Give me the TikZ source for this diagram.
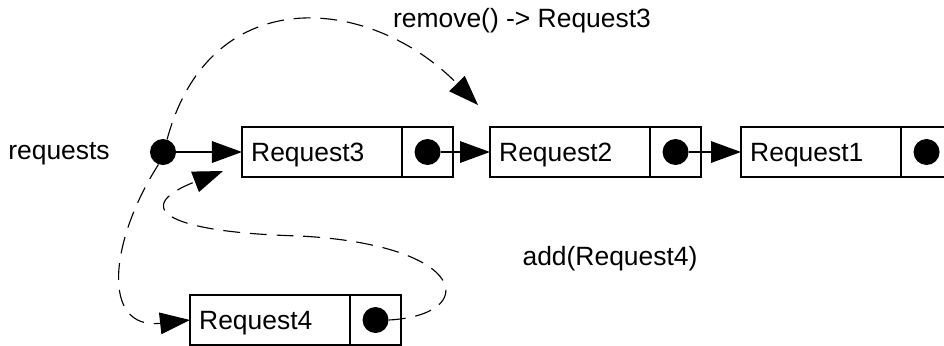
\documentclass[tikz,border=0pt]{standalone}
\usepackage{fontspec}
\setmainfont{Liberation Sans}
\usetikzlibrary{positioning,arrows.meta}

\begin{document}
\begin{tikzpicture}[x=0.025cm, y=-0.025cm,
    font=\fontsize{18.8}{22}\selectfont,
    databox/.style={draw, line width=1.4pt, outer sep=0pt, inner xsep=0.23cm,
        text height=0.5cm, text depth=0.05cm,
        minimum width=4cm, minimum height=1.25cm, text width=3.54cm, align=left, anchor=west},
    ptrbox/.style={draw, line width=1.4pt, outer sep=0pt, inner sep=0pt,
        minimum width=1.275cm, minimum height=1.25cm},
    ptrdot/.style={circle, fill=black, minimum size=0.65cm, inner sep=0pt},
    link/.style={line width=0.8pt, -{Triangle[length=0.75cm, width=0.54cm]}},
    move/.style={link, dash pattern=on 12pt off 7pt}]
                    % 画面の大きさ
                    \useasboundingbox (0,0) rectangle (944,345);
                    % 先頭ポインタ
                    \node[ptrdot] (head) at (163,152) {};
                    \node[anchor=base] (headlabel) at (59,159) {requests};
                    % リストの要素（3, 2, 1）
                    \foreach \n/\x in {3/242,2/490,1/741} {
                        \node[databox] (r\n) at (\x,152) {Request\n};
                        \node[ptrbox, right=0pt of r\n] (p\n) {};
                        \node[ptrdot] (d\n) at (p\n) {};
                    }
                    % 追加する要素
                    \node[databox] (r4) at (190,320) {Request4};
                    \node[ptrbox, right=0pt of r4] (p4) {};
                    \node[ptrdot] (d4) at (p4) {};
                    % リンク
                    \draw[link] (head) -- (r3);
                    \draw[link] (d3) -- (r2);
                    \draw[link] (d2) -- (r1);
                    % remove() の動き
                    \coordinate (rmtip) at (478,105);
                    \draw[move] (head.72) .. controls (210,-20) and (370,-5) .. (rmtip);
                    \node[anchor=base] (rmlabel) at (522,27) {remove() -> Request3};
                    % add() の動き
                    \coordinate (addtip) at (223,171);
                    \draw[move] (head.250) .. controls (110,240) and (100,330) .. (r4.west);
                    \draw[move] (d4.east) .. controls (480,315) and (470,245) .. (300,236)
                        .. controls (155,232) and (135,205) .. (addtip);
                    \node[anchor=base] (addlabel) at (610,265) {add(Request4)};
                \end{tikzpicture}
\end{document}
